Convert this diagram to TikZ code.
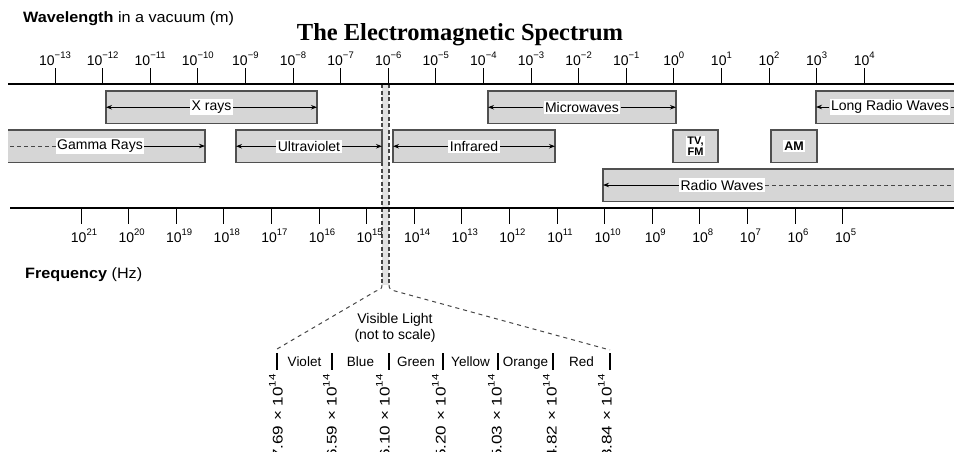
\documentclass[tikz,border=0pt]{standalone}
\usepackage{fontspec}
\usepackage{graphicx}
\setmainfont{Liberation Sans}
\newfontfamily\titlefont{Liberation Serif}
\usetikzlibrary{arrows.meta}
\definecolor{boxfill}{RGB}{214,214,214}
\definecolor{boxline}{RGB}{80,80,80}
\definecolor{stripfill}{RGB}{226,226,226}
\definecolor{dashcol}{RGB}{70,70,70}
\newcommand\myexp[1]{\raisebox{7pt}{\fontsize{9.5}{10}\selectfont #1}}
\begin{document}
\begin{tikzpicture}[x=1pt,y=-1pt,
  axisline/.style={line width=1.2pt, black},
  tickline/.style={line width=1pt, black},
  band/.style={fill=boxfill, draw=boxline, line width=1.3pt, minimum height=32.5pt, inner sep=0pt, outer sep=0pt, anchor=north west},
  openband/.style={fill=boxfill, draw=none, minimum height=32.5pt, inner sep=0pt, outer sep=0pt, anchor=north west},
  edgeline/.style={draw=boxline, line width=1.3pt},
  lbl/.style={font=\fontsize{14}{15}\selectfont, fill=white, inner sep=1.5pt},
  arr/.style={line width=0.9pt, -{Stealth[length=6pt,width=4.5pt]}},
  dsh/.style={line width=0.9pt, dash pattern=on 4pt off 3pt, dashcol},
  tk/.style={font=\fontsize{14}{15}\selectfont, inner sep=0pt, anchor=base},
  vdash/.style={line width=1.2pt, dash pattern=on 4pt off 2.5pt, dashcol},
  diag/.style={line width=1pt, dash pattern=on 4pt off 4pt, dashcol},
  txt/.style={font=\fontsize{14}{16}\selectfont, inner sep=0pt},
  ]
\useasboundingbox (0,0) rectangle (954,451);

% headers
\node[txt, anchor=base west, font=\fontsize{15}{16}\selectfont] (wl) at (23,22) {\scalebox{1.08}[1]{\textbf{Wavelength} in a vacuum (m)}};
\node[anchor=base, inner sep=0pt, font=\titlefont\bfseries\fontsize{24.5}{26}\selectfont] (title) at (460,40) {The Electromagnetic Spectrum};
\node[txt, anchor=base west, font=\fontsize{15}{16}\selectfont] (fq) at (25,278) {\scalebox{1.08}[1]{\textbf{Frequency} (Hz)}};

% visible strip
\fill[stripfill] (382,84) rectangle (389,285);
\draw[vdash] (382,84) -- (382,285);
\draw[vdash] (389,84) -- (389,285);
\coordinate (vl) at (277,349);
\coordinate (vr) at (610,350);
\draw[diag] (382,285) .. controls (382,289) and (380,290) .. (376,291) -- (vl);
\draw[diag] (389,285) .. controls (389,289) and (391,290) .. (395,291) -- (vr);

% axes
\draw[axisline] (8,84) -- (954,84);
\draw[axisline] (10,208) -- (954,208);
\foreach \e [count=\i from 0] in {−13,−12,−11,−10,−9,−8,−7,−6,−5,−4,−3,−2,−1,0,1,2,3,4} {
  \pgfmathsetmacro\xx{55+47.6*\i}
  \draw[tickline] (\xx,68) -- (\xx,84);
  \node[tk] (w\i) at (\xx,65) {10\myexp{\e}};
}
\foreach \e [count=\i from 0] in {21,20,...,5} {
  \pgfmathsetmacro\xx{81+47.6*\i}
  \draw[tickline] (\xx,208) -- (\xx,224);
  \node[tk] (f\i) at (\xx+3,242) {10\myexp{\e}};
}

% bands
\node[band, minimum width=211pt] (xb) at (106,91) {};
\node[band, minimum width=188pt] (mwb) at (488,91) {};
\node[openband, minimum width=140pt] (lrb) at (816,91) {};
\draw[edgeline] (lrb.north east) -- (lrb.north west) -- (lrb.south west) -- (lrb.south east);
\node[openband, minimum width=197pt] (gb) at (8,130) {};
\draw[edgeline] (gb.north west) -- (gb.north east) -- (gb.south east) -- (gb.south west);
\node[band, minimum width=146pt] (uvb) at (236,130) {};
\node[band, minimum width=162pt] (irb) at (393,130) {};
\node[band, minimum width=45pt] (tvb) at (673,130) {};
\node[band, minimum width=46pt] (amb) at (771,130) {};
\node[openband, minimum width=353pt] (rwb) at (603,169) {};
\draw[edgeline] (rwb.north east) -- (rwb.north west) -- (rwb.south west) -- (rwb.south east);

% labels
\node[lbl] (xl) at (xb.center) {X rays};
\node[lbl] (mwl) at (mwb.center) {Microwaves};
\node[lbl] (lrl) at (890,107) {Long Radio Waves};
\node[lbl] (gl) at (100,146) {Gamma Rays};
\node[lbl] (uvl) at (uvb.center) {Ultraviolet};
\node[lbl] (irl) at (irb.center) {Infrared};
\node[lbl, font=\bfseries\fontsize{11}{10.5}\selectfont, align=center, inner sep=1pt] (tvl) at (tvb.center) {TV,\\FM};
\node[lbl, font=\bfseries\fontsize{12.5}{13}\selectfont, inner sep=1.5pt] (aml) at (amb.center) {AM};
\node[lbl] (rwl) at (722,185) {Radio Waves};

% arrows
\draw[arr] (xl.west) -- (xl.west -| xb.west);
\draw[arr] (xl.east) -- (xl.east -| xb.east);
\draw[arr] (mwl.west) -- (mwl.west -| mwb.west);
\draw[arr] (mwl.east) -- (mwl.east -| mwb.east);
\draw[arr] (lrl.west) -- (lrl.west -| lrb.west);
\draw[line width=0.9pt] (lrl.east) -- (lrl.east -| lrb.east);
\draw[dsh] (gl.west) -- (gl.west -| gb.west);
\draw[arr] (gl.east) -- (gl.east -| gb.east);
\draw[arr] (uvl.west) -- (uvl.west -| uvb.west);
\draw[arr] (uvl.east) -- (uvl.east -| uvb.east);
\draw[arr] (irl.west) -- (irl.west -| irb.west);
\draw[arr] (irl.east) -- (irl.east -| irb.east);
\draw[arr] (rwl.west) -- (rwl.west -| rwb.west);
\draw[dsh] (rwl.east) -- (rwl.east -| rwb.east);

% visible light detail
\node[txt, align=center] (vis) at (395,328) {Visible Light\\(not to scale)};
\foreach \bx in {277,332,389,443,498,553,610} \draw[line width=1.1pt] (\bx,353) -- (\bx,370);
\foreach \cx/\cn/\nm in {304.5/Violet/cv, 360.5/Blue/cb, 416/Green/cg, 470.5/Yellow/cy, 525.5/Orange/co, 581.5/Red/cr}
  \node[txt, anchor=base, font=\fontsize{13.5}{15}\selectfont] (\nm) at (\cx,366) {\cn};
\foreach \rx/\rv [count=\i] in {276/7.69, 330/6.59, 383/6.10, 439/5.20, 495/5.03, 550/4.82, 605/3.84}
  \node[rotate=90, anchor=east, inner sep=0pt, font=\fontsize{14}{15}\selectfont] (r\i) at (\rx,374) {\scalebox{1.22}[1]{\rv\ × 10\myexp{14}}};
\end{tikzpicture}
\end{document}
